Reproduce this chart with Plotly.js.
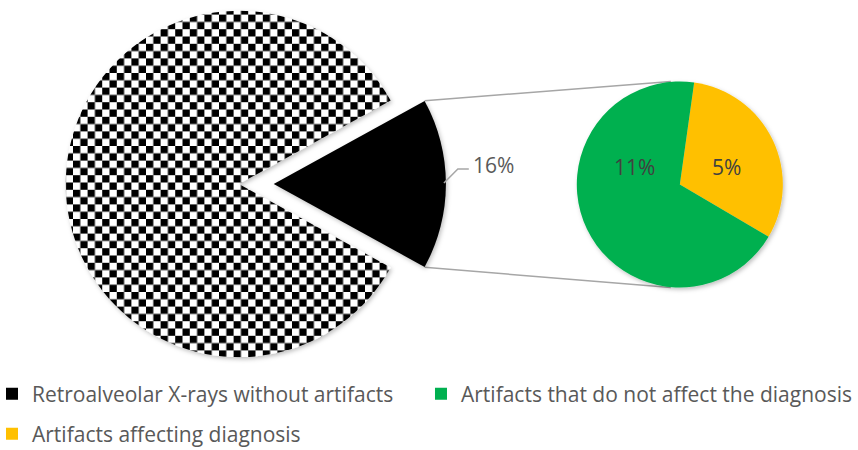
<!DOCTYPE html>
<html>
<head>
<meta charset="utf-8">
<script src="https://cdn.plot.ly/plotly-3.0.1.min.js"></script>
<style>html,body{margin:0;padding:0;background:#fff;overflow:hidden;width:858px;height:450px;}</style>
</head>
<body>
<div style="width:858px;height:450px;overflow:hidden;">
<div id="chart" style="width:858px;height:470px;"></div>
</div>
<script>
// ---- data ----
const mainLabels = ['Artifacts (total)', 'Retroalveolar X-rays without artifacts'];
const mainValues = [16, 84];
const subLabels = ['Artifacts affecting diagnosis', 'Artifacts that do not affect the diagnosis'];
const subValues = [5, 11];
const legendLabels = ['Retroalveolar X-rays without artifacts', 'Artifacts that do not affect the diagnosis', 'Artifacts affecting diagnosis'];

// ---- style / layout constants ----
const W = 858, H = 470;   // figure is drawn slightly taller; the visible window is 858x450
const FONT = 'Open Sans, Noto Sans, sans-serif';
const C_BLACK = '#000000', C_GREEN = '#00B050', C_YELLOW = '#FFC000', NONE = 'rgba(0,0,0,0)';
const mainPie = {cx: 240, cy: 184, r: 174};
const cutPie  = {cx: 275, cy: 184, r: 173};
const subPie  = {cx: 683, cy: 184.5, r: 103.5};
const SQ = 7.3; // checker square size (px)

function dom(p) {
  return {x: [(p.cx - p.r) / W, (p.cx + p.r) / W], y: [1 - (p.cy + p.r) / H, 1 - (p.cy - p.r) / H]};
}
const px = x => x / W, py = y => 1 - y / H;

const mainTotal = mainValues.reduce((a, b) => a + b, 0);
const cutHalf = 180 * mainValues[0] / mainTotal;      // half-angle of the exploded slice (deg)
const mainRotation = 90 - cutHalf;                    // centre the slice on 3 o'clock

const commonPie = {type: 'pie', sort: false, direction: 'clockwise', textinfo: 'none',
  hoverinfo: 'skip', showlegend: false};

const traces = [
  Object.assign({}, commonPie, {labels: mainLabels, values: mainValues, rotation: mainRotation,
    domain: dom(mainPie), marker: {colors: [NONE, C_BLACK], line: {width: 0}}}),
  Object.assign({}, commonPie, {labels: mainLabels, values: mainValues, rotation: mainRotation,
    domain: dom(cutPie), marker: {colors: [C_BLACK, NONE], line: {width: 0}}}),
  Object.assign({}, commonPie, {labels: subLabels, values: subValues, rotation: 8,
    domain: dom(subPie), marker: {colors: [C_YELLOW, C_GREEN], line: {width: 0}}}),
  // legend entries
  {type: 'scatter', mode: 'markers', x: [null], y: [null], name: legendLabels[0], legend: 'legend',
   marker: {symbol: 'square', size: 12, color: C_BLACK}, hoverinfo: 'skip'},
  {type: 'scatter', mode: 'markers', x: [null], y: [null], name: legendLabels[1], legend: 'legend3',
   marker: {symbol: 'square', size: 12, color: C_GREEN}, hoverinfo: 'skip'},
  {type: 'scatter', mode: 'markers', x: [null], y: [null], name: legendLabels[2], legend: 'legend2',
   marker: {symbol: 'square', size: 12, color: C_YELLOW}, hoverinfo: 'skip'}
];

// connector lines between exploded slice and the secondary pie
const a0 = (90 - cutHalf) * Math.PI / 180, a1 = (90 + cutHalf) * Math.PI / 180;
const top0 = [cutPie.cx + cutPie.r * Math.sin(a0), cutPie.cy - cutPie.r * Math.cos(a0)];
const bot0 = [cutPie.cx + cutPie.r * Math.sin(a1), cutPie.cy - cutPie.r * Math.cos(a1)];
const e = -5 * Math.PI / 180;
const top1 = [subPie.cx + subPie.r * Math.sin(e), subPie.cy - subPie.r * Math.cos(e)];
const bot1 = [subPie.cx + subPie.r * Math.sin(e), subPie.cy + subPie.r * Math.cos(e)];
const lead0 = [cutPie.cx + cutPie.r - 2, cutPie.cy - 1];

const shapes = [
  {type: 'line', xref: 'paper', yref: 'paper', x0: px(top0[0]), y0: py(top0[1]), x1: px(top1[0]), y1: py(top1[1]),
   line: {color: '#A6A6A6', width: 1.5}, layer: 'below'},
  {type: 'line', xref: 'paper', yref: 'paper', x0: px(bot0[0]), y0: py(bot0[1]), x1: px(bot1[0]), y1: py(bot1[1]),
   line: {color: '#A6A6A6', width: 1.5}, layer: 'below'},
  {type: 'path', xref: 'paper', yref: 'paper',
   path: `M ${px(lead0[0])} ${py(lead0[1])} L ${px(lead0[0] + 14)} ${py(lead0[1] - 14)} L ${px(lead0[0] + 25)} ${py(lead0[1] - 14)}`,
   line: {color: '#A6A6A6', width: 1.5}}
];

const labelFont = {family: FONT, size: 21, color: '#404040'};
const annotations = [
  {xref: 'paper', yref: 'paper', x: px(lead0[0] + 27), y: py(165), xanchor: 'left', yanchor: 'middle',
   text: mainValues[0] + '%', showarrow: false, font: {family: FONT, size: 21, color: '#595959'}},
  {xref: 'paper', yref: 'paper', x: px(subPie.cx - 46), y: py(167), xanchor: 'center', yanchor: 'middle',
   text: subValues[1] + '%', showarrow: false, font: labelFont},
  {xref: 'paper', yref: 'paper', x: px(subPie.cx + 47), y: py(167), xanchor: 'center', yanchor: 'middle',
   text: subValues[0] + '%', showarrow: false, font: labelFont}
];

const legendBase = {orientation: 'h', xanchor: 'left', yanchor: 'middle', indentation: -8,
  bgcolor: 'rgba(0,0,0,0)', borderwidth: 0,
  font: {family: FONT, size: 21, color: '#595959'}};

const layout = {
  width: W, height: H, margin: {l: 0, r: 0, t: 0, b: 0},
  paper_bgcolor: '#fff', plot_bgcolor: '#fff',
  xaxis: {visible: false}, yaxis: {visible: false},
  legend:  Object.assign({}, legendBase, {x: 0, y: py(394)}),
  legend3: Object.assign({}, legendBase, {x: px(431), y: py(394)}),
  legend2: Object.assign({}, legendBase, {x: 0, y: py(434)}),
  shapes: shapes, annotations: annotations, hovermode: false
};

const gd = document.getElementById('chart');

function decorate() {
  const svg = gd.querySelector('svg.main-svg');
  if (!svg) return;
  const defs = svg.querySelector('defs');
  if (!svg.querySelector('#checker')) {
    const ns = 'http://www.w3.org/2000/svg';
    const pat = document.createElementNS(ns, 'pattern');
    pat.setAttribute('id', 'checker');
    pat.setAttribute('patternUnits', 'userSpaceOnUse');
    pat.setAttribute('width', 2 * SQ); pat.setAttribute('height', 2 * SQ);
    pat.innerHTML = `<rect width="${2 * SQ}" height="${2 * SQ}" fill="#fff"/>` +
      `<rect width="${SQ}" height="${SQ}" fill="#000"/>` +
      `<rect x="${SQ}" y="${SQ}" width="${SQ}" height="${SQ}" fill="#000"/>`;
    defs.appendChild(pat);
    const f = document.createElementNS(ns, 'filter');
    f.setAttribute('id', 'pieShadow');
    f.setAttribute('x', '-10%'); f.setAttribute('y', '-10%'); f.setAttribute('width', '130%'); f.setAttribute('height', '130%');
    f.innerHTML = '<feDropShadow dx="1.5" dy="2" stdDeviation="2" flood-color="#000" flood-opacity="0.25"/>';
    defs.appendChild(f);
  }
  const pieTraces = gd.querySelectorAll('.pielayer .trace');
  pieTraces.forEach(t => t.setAttribute('filter', 'url(#pieShadow)'));
  if (pieTraces[0]) {
    const slices = pieTraces[0].querySelectorAll('path.surface');
    if (slices[1]) slices[1].style.setProperty('fill', 'url(#checker)');
  }
}

Plotly.newPlot(gd, traces, layout, {staticPlot: true, displayModeBar: false}).then(decorate);
gd.on && gd.on('plotly_afterplot', decorate);
</script>
</body>
</html>
